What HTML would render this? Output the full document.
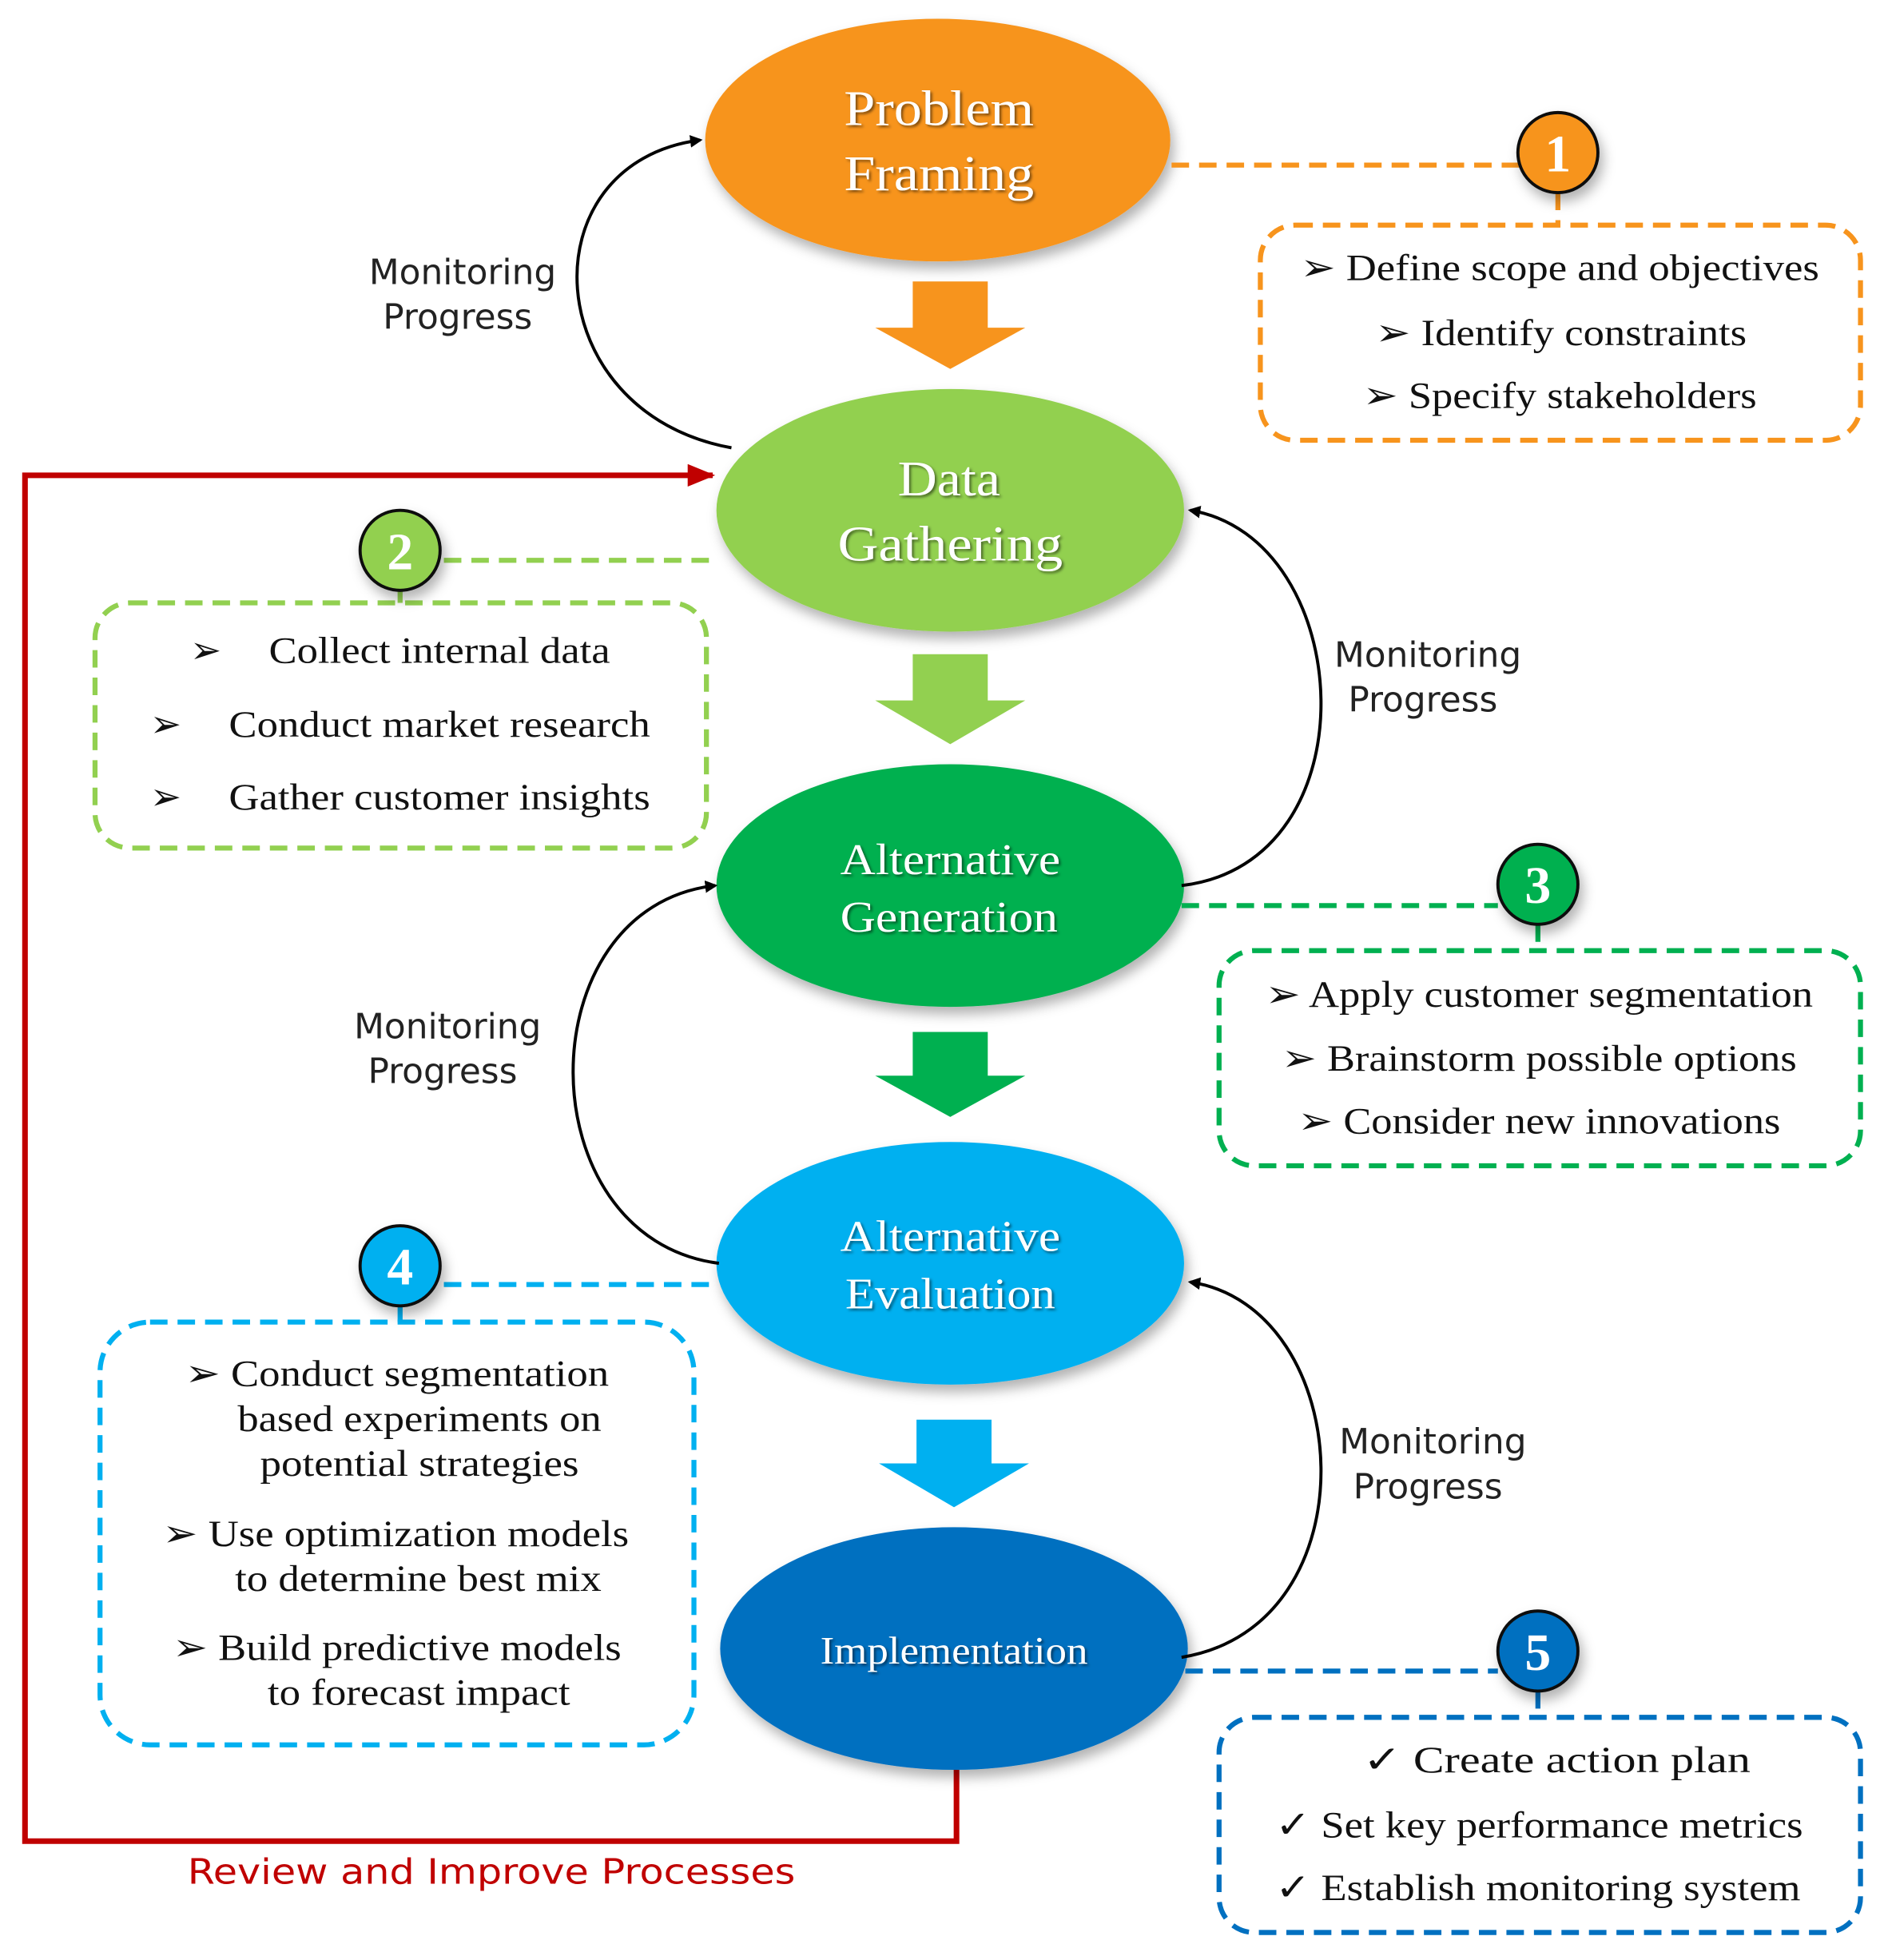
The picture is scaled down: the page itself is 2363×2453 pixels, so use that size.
<!DOCTYPE html>
<html><head><meta charset="utf-8"><style>html,body{margin:0;padding:0;background:#fff}svg{display:block}</style></head>
<body>
<svg width="2363" height="2453" viewBox="0 0 1510 1567" preserveAspectRatio="none" xmlns="http://www.w3.org/2000/svg">
<defs>
<filter id="sh" x="-20%" y="-20%" width="140%" height="150%"><feDropShadow dx="3" dy="6" stdDeviation="5" flood-color="#000" flood-opacity="0.3"/></filter>
<filter id="ts" x="-10%" y="-30%" width="120%" height="160%"><feDropShadow dx="1.5" dy="1.5" stdDeviation="1" flood-color="#000" flood-opacity="0.5"/></filter>
<marker id="ab" markerWidth="10" markerHeight="10" refX="8" refY="5" orient="auto" markerUnits="userSpaceOnUse"><path d="M0,0 L10,5 L0,10 Z" fill="#000"/></marker>
<marker id="ar" markerWidth="22" markerHeight="18" refX="20" refY="9" orient="auto" markerUnits="userSpaceOnUse"><path d="M0,0 L22,9 L0,18 Z" fill="#C00000"/></marker>
</defs>

<path d="M765,1415 L765,1472 L20,1472 L20,380 L570,380" fill="none" stroke="#C00000" stroke-width="4.5" marker-end="url(#ar)"/>
<text x="150" y="1506" font-family="DejaVu Sans, sans-serif" font-size="28" fill="#C00000" textLength="486" lengthAdjust="spacingAndGlyphs">Review and Improve Processes</text>

<path d="M730,225 H790 V262 H820 L760,295 L700,262 H730 Z" fill="#F7941D"/>
<path d="M730,523 H790 V560 H820 L760,595 L700,560 H730 Z" fill="#92D050"/>
<path d="M730,825 H790 V860 H820 L760,893 L700,860 H730 Z" fill="#00B050"/>
<path d="M733,1135 H793 V1170 H823 L763,1205 L703,1170 H733 Z" fill="#00B0F0"/>

<ellipse cx="750" cy="112" rx="186" ry="97" fill="#F7941D" filter="url(#sh)"/>
<ellipse cx="760" cy="408" rx="187" ry="97" fill="#92D050" filter="url(#sh)"/>
<ellipse cx="760" cy="708" rx="187" ry="97" fill="#00B050" filter="url(#sh)"/>
<ellipse cx="760" cy="1010" rx="187" ry="97" fill="#00B0F0" filter="url(#sh)"/>
<ellipse cx="763" cy="1318" rx="187" ry="97" fill="#0070C0" filter="url(#sh)"/>

<g font-family="Liberation Serif, serif" fill="#fff" filter="url(#ts)">
<text x="675" y="100" font-size="40" textLength="152" lengthAdjust="spacingAndGlyphs">Problem</text>
<text x="675" y="152" font-size="40" textLength="152" lengthAdjust="spacingAndGlyphs">Framing</text>
<text x="718" y="396" font-size="40" textLength="82" lengthAdjust="spacingAndGlyphs">Data</text>
<text x="670" y="448" font-size="40" textLength="180" lengthAdjust="spacingAndGlyphs">Gathering</text>
<text x="672" y="699" font-size="35" textLength="176" lengthAdjust="spacingAndGlyphs">Alternative</text>
<text x="672" y="745" font-size="35" textLength="174" lengthAdjust="spacingAndGlyphs">Generation</text>
<text x="672" y="1000" font-size="35" textLength="176" lengthAdjust="spacingAndGlyphs">Alternative</text>
<text x="676" y="1046" font-size="35" textLength="168" lengthAdjust="spacingAndGlyphs">Evaluation</text>
<text x="656" y="1330" font-size="31" textLength="214" lengthAdjust="spacingAndGlyphs">Implementation</text>
</g>

<g fill="none" stroke="#000" stroke-width="2.5">
<path d="M585,358 C430,330 420,130 560,112" marker-end="url(#ab)"/>
<path d="M945,708 C1100,690 1085,430 952,408" marker-end="url(#ab)"/>
<path d="M575,1010 C420,990 420,725 572,708" marker-end="url(#ab)"/>
<path d="M945,1325 C1100,1300 1085,1045 952,1025" marker-end="url(#ab)"/>
</g>
<g font-family="DejaVu Sans, sans-serif" font-size="28" fill="#222" text-anchor="middle">
<text x="370" y="227">Monitoring</text><text x="366" y="263">Progress</text>
<text x="1142" y="533">Monitoring</text><text x="1138" y="569">Progress</text>
<text x="358" y="830">Monitoring</text><text x="354" y="866">Progress</text>
<text x="1146" y="1162">Monitoring</text><text x="1142" y="1198">Progress</text>
</g>

<g fill="none" stroke-width="4" stroke-dasharray="14,8">
<path d="M937,132 H1215 M1246,154 V180" stroke="#F7941D"/>
<rect x="1008" y="180" width="480" height="172" rx="28" stroke="#F7941D"/>
<path d="M355,448 H570 M320,472 V482" stroke="#92D050"/>
<rect x="76" y="482" width="489" height="196" rx="28" stroke="#92D050"/>
<path d="M945,724 H1198 M1230,739 V760" stroke="#00B050"/>
<rect x="975" y="760" width="513" height="172" rx="28" stroke="#00B050"/>
<path d="M355,1027 H575 M320,1044 V1057" stroke="#00B0F0"/>
<rect x="80" y="1057" width="475" height="338" rx="40" stroke="#00B0F0"/>
<path d="M948,1336 H1198 M1230,1352 V1373" stroke="#0070C0"/>
<rect x="975" y="1373" width="513" height="172" rx="28" stroke="#0070C0"/>
</g>

<g stroke="#111" stroke-width="2.5" filter="url(#sh)">
<circle cx="1246" cy="122" r="32" fill="#F7941D"/>
<circle cx="320" cy="440" r="32" fill="#92D050"/>
<circle cx="1230" cy="707" r="32" fill="#00B050"/>
<circle cx="320" cy="1012" r="32" fill="#00B0F0"/>
<circle cx="1230" cy="1320" r="32" fill="#0070C0"/>
</g>
<g font-family="Liberation Serif, serif" font-size="42" font-weight="bold" fill="#fff" text-anchor="middle">
<text x="1246" y="137">1</text><text x="320" y="455">2</text><text x="1230" y="722">3</text><text x="320" y="1027">4</text><text x="1230" y="1335">5</text>
</g>

<g font-family="Liberation Serif, DejaVu Sans, serif" font-size="30" fill="#111">
<text x="1040" y="224" textLength="415" lengthAdjust="spacingAndGlyphs">➢ Define scope and objectives</text>
<text x="1100" y="276" textLength="297" lengthAdjust="spacingAndGlyphs">➢ Identify constraints</text>
<text x="1090" y="326" textLength="315" lengthAdjust="spacingAndGlyphs">➢ Specify stakeholders</text>
<text x="1012" y="805" textLength="438" lengthAdjust="spacingAndGlyphs">➢ Apply customer segmentation</text>
<text x="1025" y="856" textLength="412" lengthAdjust="spacingAndGlyphs">➢ Brainstorm possible options</text>
<text x="1038" y="906" textLength="386" lengthAdjust="spacingAndGlyphs">➢ Consider new innovations</text>
<text x="148" y="1108" textLength="339" lengthAdjust="spacingAndGlyphs">➢ Conduct segmentation</text>
<text x="190" y="1144" textLength="291" lengthAdjust="spacingAndGlyphs">based experiments on</text>
<text x="208" y="1180" textLength="255" lengthAdjust="spacingAndGlyphs">potential strategies</text>
<text x="130" y="1236" textLength="373" lengthAdjust="spacingAndGlyphs">➢ Use optimization models</text>
<text x="188" y="1272" textLength="293" lengthAdjust="spacingAndGlyphs">to determine best mix</text>
<text x="138" y="1327" textLength="359" lengthAdjust="spacingAndGlyphs">➢ Build predictive models</text>
<text x="214" y="1363" textLength="242" lengthAdjust="spacingAndGlyphs">to forecast impact</text>
<text x="1090" y="1417" textLength="310" lengthAdjust="spacingAndGlyphs">✓ Create action plan</text>
<text x="1020" y="1469" textLength="422" lengthAdjust="spacingAndGlyphs">✓ Set key performance metrics</text>
<text x="1020" y="1519" textLength="420" lengthAdjust="spacingAndGlyphs">✓ Establish monitoring system</text>
<text x="152" y="530">➢</text><text x="215" y="530" textLength="273" lengthAdjust="spacingAndGlyphs">Collect internal data</text>
<text x="120" y="589">➢</text><text x="183" y="589" textLength="337" lengthAdjust="spacingAndGlyphs">Conduct market research</text>
<text x="120" y="647">➢</text><text x="183" y="647" textLength="337" lengthAdjust="spacingAndGlyphs">Gather customer insights</text>
</g>
</svg>
</body></html>
